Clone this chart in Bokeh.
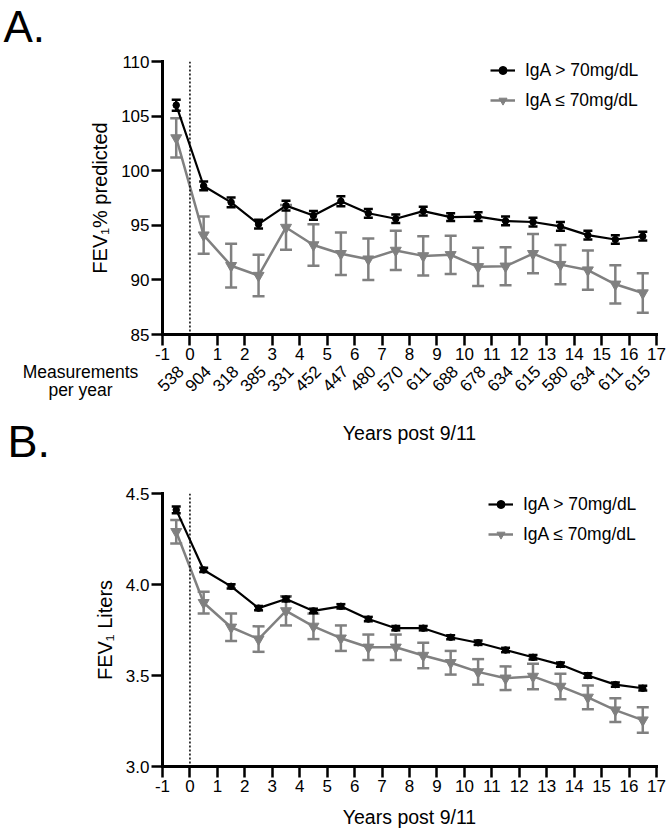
import math
from bokeh.plotting import figure
from bokeh.models import (Range1d, FixedTicker, ColumnDataSource, Whisker, TeeHead,
                          Span, Label, Legend, LegendItem, NumeralTickFormatter, LinearAxis)
from bokeh.layouts import column
from bokeh.embed import file_html
from bokeh.resources import INLINE

# ---------------- data ----------------
years = [-0.5, 0.5, 1.5, 2.5, 3.5, 4.5, 5.5, 6.5, 7.5, 8.5,
         9.5, 10.5, 11.5, 12.5, 13.5, 14.5, 15.5, 16.5]
measurements = ["538", "904", "318", "385", "331", "452", "447", "480", "570",
                "611", "688", "678", "634", "615", "580", "634", "611", "615"]
x_ticks = [-1, 0, 1, 2, 3, 4, 5, 6, 7, 8, 9, 10, 11, 12, 13, 14, 15, 16, 17]

pct_ticks = [85, 90, 95, 100, 105, 110]
pct_high = [106.0, 98.6, 97.1, 95.1, 96.8, 95.9, 97.2, 96.1, 95.6, 96.3,
            95.75, 95.8, 95.4, 95.3, 94.9, 94.1, 93.7, 94.0]
pct_high_err = [0.5, 0.4, 0.45, 0.4, 0.45, 0.4, 0.45, 0.4, 0.4, 0.4,
                0.35, 0.4, 0.4, 0.4, 0.4, 0.4, 0.4, 0.4]
pct_low = [103.0, 94.1, 91.3, 90.4, 94.8, 93.2, 92.4, 91.9, 92.7, 92.2,
           92.3, 91.2, 91.25, 92.4, 91.4, 90.9, 89.6, 88.8]
pct_low_err = [1.8, 1.7, 2.0, 1.9, 2.05, 1.9, 1.95, 1.9, 1.8, 1.8,
               1.75, 1.75, 1.75, 1.8, 1.8, 1.8, 1.75, 1.8]

lit_ticks = [3.0, 3.5, 4.0, 4.5]
lit_high = [4.41, 4.08, 3.99, 3.87, 3.92, 3.855, 3.88, 3.81, 3.76, 3.76,
            3.71, 3.68, 3.64, 3.60, 3.56, 3.50, 3.45, 3.43]
lit_high_err = [0.018, 0.012, 0.012, 0.012, 0.013, 0.012, 0.012, 0.012, 0.012, 0.012,
                0.011, 0.012, 0.012, 0.012, 0.012, 0.012, 0.012, 0.013]
lit_low = [4.29, 3.90, 3.765, 3.70, 3.855, 3.77, 3.705, 3.655, 3.655, 3.61,
           3.57, 3.52, 3.485, 3.495, 3.44, 3.38, 3.31, 3.255]
lit_low_err = [0.065, 0.06, 0.075, 0.07, 0.08, 0.07, 0.07, 0.07, 0.07, 0.07,
               0.065, 0.07, 0.065, 0.07, 0.07, 0.065, 0.065, 0.07]

legend_high = "IgA > 70mg/dL"
legend_low = "IgA \u2264 70mg/dL"
x_title = "Years post 9/11"

FONT = "Liberation Sans"
GREY = "#808080"

# ---------------- geometry (page pixels) ----------------
W = 668
FRAME_L, FRAME_R = 162, 656
XMIN, XMAX = -1, 17
A_TOP, A_BOT = 61, 334
B_TOP, B_BOT = 493, 766
H_A = 412
H_B = 833 - H_A


def page_to_data(px, py, yr, top, bot):
    """Convert a page pixel position into a panel's data coordinates."""
    x = XMIN + (px - FRAME_L) * (XMAX - XMIN) / (FRAME_R - FRAME_L)
    y = yr[0] + (bot - py) * (yr[1] - yr[0]) / (bot - top)
    return x, y


def make_panel(high, high_err, low, low_err, yr, yticks, ylabel, height,
               top, bottom, fmt, xlabel, xstandoff, legend_loc):
    p = figure(width=W, height=height, output_backend="svg", toolbar_location=None,
               x_range=Range1d(XMIN, XMAX), y_range=Range1d(*yr),
               min_border_left=FRAME_L, min_border_right=W - FRAME_R,
               min_border_top=top, min_border_bottom=bottom)
    p.outline_line_color = None
    p.xgrid.visible = False
    p.ygrid.visible = False
    p.background_fill_color = "white"
    p.border_fill_color = "white"

    for ax in (p.xaxis[0], p.yaxis[0]):
        ax.axis_line_width = 3
        ax.axis_line_color = "black"
        ax.axis_line_cap = "square"
        ax.major_tick_line_width = 2.5
        ax.major_tick_line_color = "black"
        ax.major_tick_in = 0
        ax.major_tick_out = 11
        ax.minor_tick_line_color = None
        ax.major_label_text_font = FONT
        ax.major_label_text_font_size = "17px"
        ax.major_label_text_color = "black"
        ax.axis_label_text_font = FONT
        ax.axis_label_text_font_style = "normal"
        ax.axis_label_text_color = "black"

    p.xaxis.ticker = FixedTicker(ticks=x_ticks)
    p.xaxis.major_label_overrides = {-1: "-1"}
    p.xaxis.major_label_standoff = 2
    if xlabel:
        p.xaxis.axis_label = xlabel
        p.xaxis.axis_label_text_font_size = "19.5px"
        p.xaxis.axis_label_standoff = xstandoff

    p.yaxis.ticker = FixedTicker(ticks=yticks)
    p.yaxis.major_label_standoff = 2
    p.yaxis.axis_label = ylabel
    p.yaxis.axis_label_text_font_size = "20px"
    p.yaxis.axis_label_standoff = 7
    if fmt:
        p.yaxis.formatter = NumeralTickFormatter(format=fmt)

    p.add_layout(Span(location=0, dimension="height", line_color="black",
                      line_width=1.5, line_dash="2 2"))

    src_h = ColumnDataSource(dict(x=years, y=high,
                                  upper=[m + e for m, e in zip(high, high_err)],
                                  lower=[m - e for m, e in zip(high, high_err)]))
    src_l = ColumnDataSource(dict(x=years, y=low,
                                  upper=[m + e for m, e in zip(low, low_err)],
                                  lower=[m - e for m, e in zip(low, low_err)]))

    w_l = Whisker(source=src_l, base="x", upper="upper", lower="lower",
                  line_color=GREY, line_width=2.5, level="underlay",
                  upper_head=TeeHead(size=12, line_color=GREY, line_width=2.5),
                  lower_head=TeeHead(size=12, line_color=GREY, line_width=2.5))
    p.add_layout(w_l)

    l_line = p.line("x", "y", source=src_l, line_color=GREY, line_width=2.5)
    l_pts = p.scatter("x", "y", source=src_l, marker="inverted_triangle", size=11,
                      fill_color=GREY, line_color=GREY)
    h_line = p.line("x", "y", source=src_h, line_color="black", line_width=2.2)
    h_pts = p.scatter("x", "y", source=src_h, marker="circle", size=6.5,
                      fill_color="black", line_color="black")

    w_h = Whisker(source=src_h, base="x", upper="upper", lower="lower",
                  line_color="black", line_width=2.5, level="glyph",
                  upper_head=TeeHead(size=9, line_color="black", line_width=2.5),
                  lower_head=TeeHead(size=9, line_color="black", line_width=2.5))
    p.add_layout(w_h)

    legend = Legend(items=[LegendItem(label=legend_high, renderers=[h_line, h_pts]),
                           LegendItem(label=legend_low, renderers=[l_line, l_pts])],
                    location=legend_loc, padding=0, margin=0, spacing=9,
                    glyph_width=25, glyph_height=20, label_height=20,
                    label_standoff=10, border_line_alpha=0, background_fill_alpha=0,
                    label_text_font=FONT, label_text_font_size="17.5px",
                    label_text_color="black")
    p.add_layout(legend)
    return p


def side_label(p, side, text, px, py, yr, top, bot, size, align="left"):
    """Text outside the frame, held in a side panel; (px, py) = page pixel of its middle."""
    x, y = page_to_data(px, py, yr, top, bot)
    p.add_layout(Label(x=x, y=y, text=text, text_font=FONT, text_font_size=size,
                       text_color="black", text_align=align,
                       text_baseline="middle"), side)


YR_A = (85, 110)
YR_B = (3.0, 4.5)

# ---------------- Panel A ----------------
pA = make_panel(pct_high, pct_high_err, pct_low, pct_low_err, YR_A, pct_ticks,
                "FEV\u2081% predicted", H_A, A_TOP, H_A - A_BOT, None, None, 0,
                (328, 223.5))

# second bottom axis: number of measurements per year, rotated 45 degrees
label_shift = 0.16
meas_ticks = [yv + label_shift for yv in years]
meas_axis = LinearAxis(ticker=FixedTicker(ticks=meas_ticks),
                       major_label_overrides={t: m for t, m in zip(meas_ticks, measurements)},
                       major_label_orientation=math.pi / 4,
                       axis_line_color=None, major_tick_line_color=None,
                       major_tick_in=0, major_tick_out=0, minor_tick_line_color=None,
                       major_label_standoff=6, major_label_text_font=FONT,
                       major_label_text_font_size="17px", major_label_text_color="black")
pA.add_layout(meas_axis, "below")

side_label(pA, "left", "A.", 3, 26, YR_A, A_TOP, A_BOT, "44px")
side_label(pA, "above", "Measurements", 80, 371, YR_A, A_TOP, A_BOT, "17.5px", "center")
side_label(pA, "above", "per year", 80, 389.5, YR_A, A_TOP, A_BOT, "17.5px", "center")

# ---------------- Panel B ----------------
pB = make_panel(lit_high, lit_high_err, lit_low, lit_low_err, YR_B, lit_ticks,
                "FEV\u2081 Liters", H_B, B_TOP - H_A, 833 - B_BOT, "0.0", x_title, 11,
                (326, 221.3))
side_label(pB, "left", "B.", 7, 441, YR_B, B_TOP, B_BOT, "45px")
side_label(pB, "above", x_title, (FRAME_L + FRAME_R) / 2, 432, YR_B, B_TOP, B_BOT,
           "19.5px", "center")

layout = column(pA, pB)
open("out.html", "w").write(file_html(layout, INLINE))
